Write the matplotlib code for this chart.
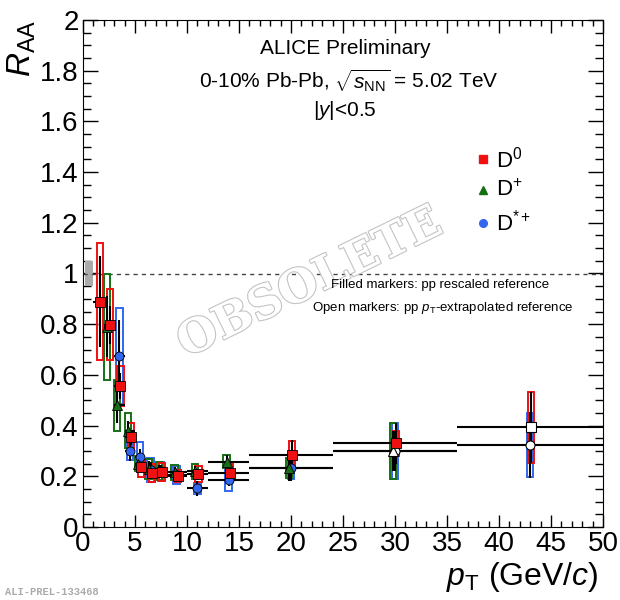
import numpy as np
import matplotlib
matplotlib.use('Agg')
import matplotlib.pyplot as plt
from matplotlib.patches import Rectangle
from matplotlib.ticker import MultipleLocator, FormatStrFormatter
import matplotlib.patheffects as pe

plt.rcParams['font.family'] = ['Liberation Sans', 'DejaVu Sans']
plt.rcParams['mathtext.fontset'] = 'custom'
plt.rcParams['mathtext.rm'] = 'Liberation Sans'
plt.rcParams['mathtext.it'] = 'Liberation Sans:italic'

# D0 (red squares)
d0_lo = [1, 2, 3, 4, 5, 6, 7, 8, 10, 12, 16, 24, 36]
d0_hi = [2, 3, 4, 5, 6, 7, 8, 10, 12, 16, 24, 36, 50]
d0_raa = [0.889, 0.797, 0.556, 0.354, 0.235, 0.214, 0.218, 0.201, 0.209, 0.214, 0.284, 0.330, 0.393]
d0_stat = [0.18, 0.075, 0.05, 0.03, 0.02, 0.02, 0.02, 0.015, 0.02, 0.02, 0.06, 0.08, 0.14]
d0_syst = [0.23, 0.14, 0.08, 0.056, 0.036, 0.036, 0.035, 0.025, 0.03, 0.035, 0.055, 0.05, 0.14]
d0_open = [False] * 12 + [True]

# D+ (green triangles)
dp_lo = [2, 3, 4, 5, 6, 7, 8, 10, 12, 16, 24]
dp_hi = [3, 4, 5, 6, 7, 8, 10, 12, 16, 24, 36]
dp_raa = [0.79, 0.48, 0.38, 0.25, 0.23, 0.22, 0.215, 0.22, 0.258, 0.233, 0.30]
dp_stat = [0.12, 0.07, 0.04, 0.03, 0.03, 0.025, 0.02, 0.02, 0.025, 0.05, 0.08]
dp_syst = [0.21, 0.10, 0.07, 0.03, 0.04, 0.035, 0.03, 0.03, 0.026, 0.04, 0.11]
dp_open = [False] * 10 + [True]

# D*+ (blue circles)
ds_lo = [3, 4, 5, 6, 7, 8, 10, 12, 16, 24, 36]
ds_hi = [4, 5, 6, 7, 8, 10, 12, 16, 24, 36, 50]
ds_raa = [0.675, 0.30, 0.277, 0.225, 0.22, 0.205, 0.153, 0.185, 0.233, 0.30, 0.323]
ds_stat = [0.14, 0.04, 0.03, 0.03, 0.025, 0.02, 0.03, 0.025, 0.05, 0.08, 0.13]
ds_syst = [0.19, 0.037, 0.06, 0.048, 0.038, 0.037, 0.022, 0.043, 0.042, 0.11, 0.125]
ds_open = [False] * 9 + [True, True]

norm_unc = 0.048

fig = plt.figure(figsize=(6.2, 6), dpi=100)
ax = fig.add_axes([83 / 620, 1 - 527 / 600, 520 / 620, 507 / 600])


def draw_species(lo, hi, raa, stat, syst, is_open, color, marker, ms, shift):
    lo = np.array(lo, float)
    hi = np.array(hi, float)
    raa = np.array(raa)
    x = (lo + hi) / 2 + shift
    for xi, yi, s in zip(x, raa, syst):
        ax.add_patch(Rectangle((xi - 0.3, yi - s), 0.6, 2 * s, fill=False,
                               edgecolor=color, lw=1.4, zorder=3))
    ax.hlines(raa, lo, hi, color='black', lw=1.5, zorder=4)
    ax.vlines(x, raa - np.array(stat), raa + np.array(stat), color='black', lw=1.5, zorder=4)
    op = np.array(is_open)
    ax.plot(x[~op], raa[~op], ls='none', marker=marker, ms=ms, mfc=color,
            mec='black', mew=0.6, zorder=5)
    ax.plot(x[op], raa[op], ls='none', marker=marker, ms=ms, mfc='white',
            mec='black', mew=0.8, zorder=5)


draw_species(ds_lo, ds_hi, ds_raa, ds_stat, ds_syst, ds_open, '#3366ee', 'o', 6.5, 0.0)
draw_species(dp_lo, dp_hi, dp_raa, dp_stat, dp_syst, dp_open, '#157015', '^', 6.5, -0.2)
draw_species(d0_lo, d0_hi, d0_raa, d0_stat, d0_syst, d0_open, '#ee1111', 's', 6.5, 0.1)

# normalisation uncertainty and unity line
ax.add_patch(Rectangle((0.2, 1 - norm_unc), 0.75, 2 * norm_unc, color='#aaaaaa', lw=0, zorder=2))
ax.axhline(1, color='#444444', lw=1, ls=(0, (3, 3)), zorder=2)

ax.set_xlim(0, 50)
ax.set_ylim(0, 2)
ax.xaxis.set_major_locator(MultipleLocator(5))
ax.xaxis.set_minor_locator(MultipleLocator(1))
ax.yaxis.set_major_locator(MultipleLocator(0.2))
ax.yaxis.set_minor_locator(MultipleLocator(0.05))
ax.yaxis.set_major_formatter(FormatStrFormatter('%g'))
ax.tick_params(which='both', direction='in', top=True, right=True, labelsize=20, width=1)
ax.tick_params(axis='x', which='major', length=9, pad=3)
ax.tick_params(axis='x', which='minor', length=4.5)
ax.tick_params(axis='y', which='major', length=11, pad=3)
ax.tick_params(axis='y', which='minor', length=5.5)

# legend
leg_y = [1.45, 1.33, 1.20]
leg_txt = [r'D$^{0}$', r'D$^{+}$', r'D$^{*+}$']
leg_col = ['#ee1111', '#157015', '#3366ee']
leg_mk = ['s', '^', 'o']
for yy, tt, cc, mk in zip(leg_y, leg_txt, leg_col, leg_mk):
    ax.plot([38.5], [yy], ls='none', marker=mk, ms=5.5, color=cc, zorder=6)
    ax.text(39.7, yy, tt, fontsize=16, va='center', ha='left')

fig.text(345 / 620, 1 - 49 / 600, 'ALICE Preliminary', fontsize=15, ha='center', va='center')
fig.text(349 / 620, 1 - 81 / 600, r'0-10% Pb-Pb, $\sqrt{s_{\rm NN}}$ = 5.02 TeV',
         fontsize=15, ha='center', va='center')
fig.text(345 / 620, 1 - 110 / 600, r'|$y$|<0.5', fontsize=15, ha='center', va='center')
fig.text(549 / 620, 1 - 285 / 600, 'Filled markers: pp rescaled reference',
         fontsize=9.5, ha='right', va='center')
fig.text(573 / 620, 1 - 308 / 600, r'Open markers: pp $p_{\rm T}$-extrapolated reference',
         fontsize=9.5, ha='right', va='center')

fig.text(310 / 620, 1 - 283 / 600, 'OBSOLETE', fontsize=33, family='DejaVu Serif',
         weight='bold', color='white', rotation=26, ha='center', va='center', zorder=0.5,
         path_effects=[pe.withStroke(linewidth=1.6, foreground='#c4c4c4')])

fig.text(0.965, 1 - 577 / 600, r'$p_{\rm T}$ (GeV/$c$)', fontsize=23, ha='right', va='center')
fig.text(22 / 620, 1 - 20 / 600, r'$R_{\rm AA}$', fontsize=24, rotation=90, ha='center', va='top')
fig.text(5 / 620, 1 - 592 / 600, 'ALI-PREL-133468', fontsize=7.5, family='Liberation Mono',
         weight='bold', color='#aaaaaa', ha='left', va='center')

fig.savefig('out.png', dpi=100)
